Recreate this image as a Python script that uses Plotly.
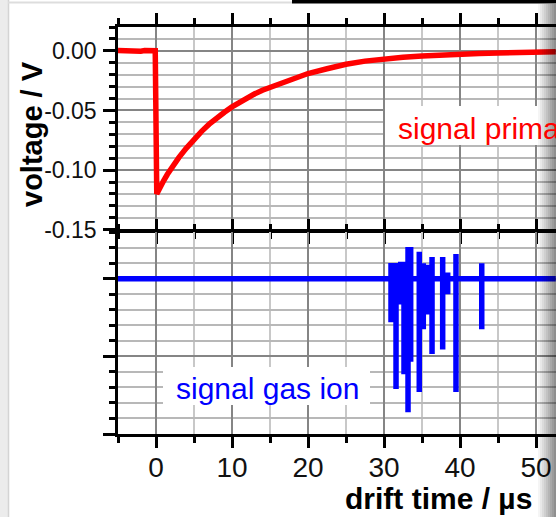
import plotly.graph_objects as go

# ---------------- data ----------------
# primary signal (top panel), drift time in µs, voltage in V
prim_t = [-5, -4.5, -4, -3.5, -3, -2.5, -2, -1.5, -1, -0.5, -0.1,
          0.1, 0.5, 1, 1.5, 2, 2.5, 3, 4, 5, 6, 7, 8, 9, 10, 11, 12, 13, 14,
          15, 16, 18, 20, 22.5, 25, 27.5, 30, 32.5, 35, 37.5, 40, 42.5, 45,
          47.5, 50, 52.6]
prim_v = [0.0003, 0.0001, -0.0002, 0.0002, -0.0001, 0.0001, -0.0003, 0.0002, 0.0000, -0.0002, 0.0001,
          -0.1200, -0.1140, -0.1090, -0.1035, -0.0985, -0.0940, -0.0895, -0.0815, -0.0740,
          -0.0675, -0.0615, -0.0560, -0.0515, -0.0470, -0.0430, -0.0395, -0.0360, -0.0330,
          -0.0305, -0.0280, -0.0235, -0.0190, -0.0150, -0.0112, -0.0086, -0.0066, -0.0053,
          -0.0043, -0.0034, -0.0027, -0.0023, -0.0019, -0.0014, -0.0010, -0.0007]

# gas ion signal (bottom panel, arbitrary units): spike times, upper and lower excursions
ion_spike_t = [30.92, 31.58, 32.2, 32.63, 33.16, 33.51, 34.64, 35.17, 35.62, 36.32, 37.72, 38.38, 39.47, 42.86]
ion_spike_hi = [0.205, 0.205, 0.22, 0.22, 0.41, 0.41, 0.35, 0.20, 0.18, 0.28, 0.28, 0.08, 0.32, 0.20]
ion_spike_lo = [-0.56, -1.42, -0.33, -1.23, -1.72, -1.07, -1.46, -0.65, -0.46, -0.97, -0.91, -0.20, -1.46, -0.65]
ion_t_start, ion_t_end = -5, 52.6

x_tickvals = [0, 10, 20, 30, 40, 50]
x_ticktext = ["0", "10", "20", "30", "40", "50"]
y_tickvals = [0.00, -0.05, -0.10, -0.15]
y_ticktext = ["0.00", "-0.05", "-0.10", "-0.15"]

label_primary = "signal primary"
label_ion = "signal gas ion"
x_title = "drift time / µs"
y_title = "voltage / V"

# ---------------- build ion trace ----------------
ion_t = [ion_t_start]
ion_v = [0.0]
for t, hi, lo in zip(ion_spike_t, ion_spike_hi, ion_spike_lo):
    ion_t += [t, t, t, t]
    ion_v += [0.0, hi, lo, 0.0]
ion_t.append(ion_t_end)
ion_v.append(0.0)

# ---------------- figure ----------------
W, H = 556, 517
ML, MR, MT, MB = 118, 0, 27, 83
PW, PH = W - ML - MR, H - MT - MB
LW = 2.5
top_lo = (434 - 231 + LW / 2) / PH   # top panel bottom edge (line drawn just below)
bot_hi = (434 - 231 - LW / 2) / PH   # bottom panel top edge (line drawn just above)


def px_x(p):
    return (p - ML) / PW


def px_y(p):
    return (H - MB - p) / PH


fig = go.Figure()
fig.add_trace(go.Scatter(x=prim_t, y=prim_v, mode="lines",
                         line=dict(color="#ff0000", width=5.5),
                         xaxis="x", yaxis="y", showlegend=False, hoverinfo="skip"))
fig.add_trace(go.Scatter(x=ion_t, y=ion_v, mode="lines",
                         line=dict(color="#0000ff", width=5.5),
                         xaxis="x2", yaxis="y2", showlegend=False, hoverinfo="skip"))

tickfont_x = dict(family="Liberation Sans, Arial, sans-serif", size=28, color="#111")
tickfont_y = dict(family="Liberation Sans, Arial, sans-serif", size=23, color="#111")

xcommon = dict(range=[-5, 52.63], showline=True, linecolor="black", linewidth=LW,
               mirror="ticks", ticks="outside", ticklen=11, tickwidth=2.5, tickcolor="black",
               tickmode="array", tickvals=x_tickvals, ticktext=x_ticktext,
               showgrid=True, gridcolor="#858585", gridwidth=1.8, zeroline=False,
               minor=dict(ticks="outside", ticklen=6, tickwidth=2.5, tickcolor="black",
                          tickmode="linear", tick0=0, dtick=5,
                          showgrid=True, gridcolor="#c8c8c8", gridwidth=1.8))

fig.update_layout(
    width=W, height=H,
    margin=dict(l=ML, r=MR, t=MT, b=MB, pad=0),
    paper_bgcolor="white", plot_bgcolor="white",
    xaxis=dict(xcommon, domain=[0, 1], anchor="y", showticklabels=False),
    xaxis2=dict(xcommon, domain=[0, 1], anchor="y2", showticklabels=True,
                tickfont=tickfont_x, ticklabelstandoff=-4),
    yaxis=dict(domain=[top_lo, 1], range=[-0.15, 0.02], anchor="x",
               showline=True, linecolor="black", linewidth=LW, mirror=False,
               ticks="outside", ticklen=12, tickwidth=2.5, tickcolor="black",
               tickmode="array", tickvals=y_tickvals, ticktext=y_ticktext,
               tickfont=tickfont_y, ticklabelstandoff=2,
               showgrid=True, gridcolor="#858585", gridwidth=1.8, zeroline=False,
               minor=dict(ticks="outside", ticklen=6, tickwidth=2.5, tickcolor="black",
                          tickmode="linear", tick0=0, dtick=0.01,
                          showgrid=True, gridcolor="#b8b8b8", gridwidth=1.8)),
    yaxis2=dict(domain=[0, bot_hi], range=[-2, 0.6], anchor="x2",
                showline=True, linecolor="black", linewidth=LW, mirror=False,
                ticks="outside", ticklen=12, tickwidth=2.5, tickcolor="black",
                tickmode="linear", tick0=0, dtick=1, showticklabels=False,
                showgrid=True, gridcolor="#858585", gridwidth=1.8, zeroline=False,
                minor=dict(ticks="outside", ticklen=6, tickwidth=2.5, tickcolor="black",
                           tickmode="linear", tick0=0, dtick=0.2,
                           showgrid=True, gridcolor="#b8b8b8", gridwidth=1.8)),
)

shapes = []
# white boxes behind labels
shapes.append(dict(type="rect", xref="paper", yref="paper", layer="above",
                   x0=px_x(385), x1=px_x(560), y0=px_y(145), y1=px_y(106),
                   fillcolor="white", line=dict(width=0)))
shapes.append(dict(type="rect", xref="paper", yref="paper", layer="above",
                   x0=px_x(163), x1=px_x(370), y0=px_y(405), y1=px_y(367),
                   fillcolor="white", line=dict(width=0)))
# page decorations (screenshot frame)
shapes.append(dict(type="rect", xref="paper", yref="paper", layer="above",
                   x0=px_x(0), x1=px_x(8), y0=px_y(H), y1=px_y(0),
                   fillcolor="#ececec", line=dict(width=0)))
shapes.append(dict(type="line", xref="paper", yref="paper", layer="above",
                   x0=px_x(8.5), x1=px_x(8.5), y0=px_y(H), y1=px_y(0),
                   line=dict(color="#d4d4d4", width=1.5)))
shapes.append(dict(type="line", xref="paper", yref="paper", layer="above",
                   x0=px_x(8), x1=px_x(292), y0=px_y(2.5), y1=px_y(2.5),
                   line=dict(color="#dddddd", width=2)))
shapes.append(dict(type="rect", xref="paper", yref="paper", layer="above",
                   x0=px_x(292), x1=px_x(W), y0=px_y(3.5), y1=px_y(0),
                   fillcolor="black", line=dict(width=0)))
# right-hand shading
for i in range(9):
    x0 = 538 + 2 * i
    shapes.append(dict(type="rect", xref="paper", yref="paper", layer="above",
                       x0=px_x(x0), x1=px_x(x0 + 2), y0=px_y(H), y1=px_y(4),
                       fillcolor="black", opacity=0.04 + 0.05 * i, line=dict(width=0)))
fig.update_layout(shapes=shapes)

annotations = [
    dict(text=label_primary, xref="paper", yref="paper", x=px_x(396), y=px_y(128),
         xanchor="left", yanchor="middle", showarrow=False,
         font=dict(family="Liberation Sans, Arial, sans-serif", size=30, color="#ff0000")),
    dict(text=label_ion, xref="paper", yref="paper", x=px_x(174), y=px_y(388),
         xanchor="left", yanchor="middle", showarrow=False,
         font=dict(family="Liberation Sans, Arial, sans-serif", size=30, color="#0000ff")),
    dict(text="<b>" + x_title + "</b>", xref="paper", yref="paper", x=px_x(534), y=px_y(498),
         xanchor="right", yanchor="middle", showarrow=False,
         font=dict(family="Liberation Sans, Arial, sans-serif", size=30, color="black")),
    dict(text="<b>" + y_title + "</b>", xref="paper", yref="paper", x=px_x(32), y=px_y(134),
         xanchor="center", yanchor="middle", showarrow=False, textangle=-90,
         font=dict(family="Liberation Sans, Arial, sans-serif", size=29, color="black")),
]
fig.update_layout(annotations=annotations)

fig.write_html("out.html")
